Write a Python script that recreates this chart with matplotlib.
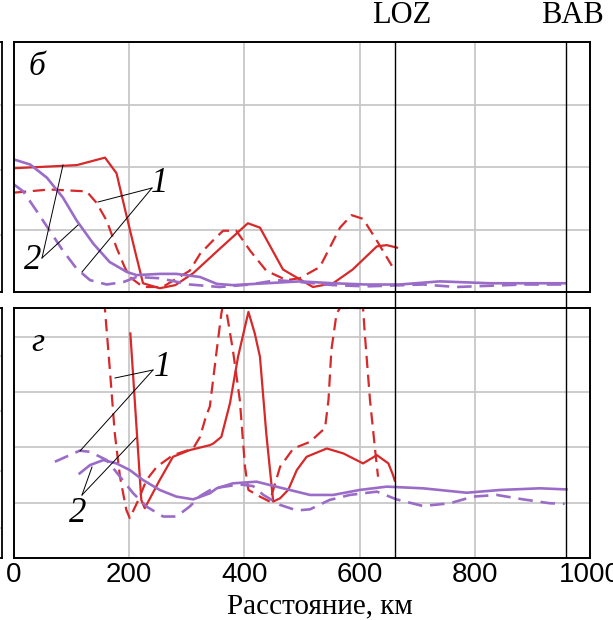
import matplotlib.pyplot as plt
from matplotlib.lines import Line2D

# --- data (km, relative units) ---
# panel б
b_red_solid_x = [0, 109, 158, 178, 192, 210, 224, 253, 280, 311, 357, 406, 427, 467, 519, 554, 588, 630, 647, 665]
b_red_solid_y = [1.98, 2.03, 2.15, 1.90, 1.35, 0.66, 0.14, 0.06, 0.11, 0.30, 0.69, 1.10, 1.03, 0.36, 0.08, 0.14, 0.36, 0.73, 0.75, 0.71]
b_red_dash_x = [0, 62, 126, 143, 161, 178, 192, 201, 224, 258, 305, 323, 345, 363, 386, 410, 438, 473, 496, 531, 566, 586, 606, 630, 656]
b_red_dash_y = [1.59, 1.64, 1.61, 1.43, 1.14, 0.71, 0.40, 0.24, 0.08, 0.08, 0.34, 0.61, 0.82, 0.98, 0.98, 0.66, 0.34, 0.19, 0.22, 0.40, 1.03, 1.23, 1.17, 0.82, 0.42]
b_pur_solid_x = [0, 28, 57, 85, 109, 138, 166, 196, 213, 253, 282, 323, 352, 380, 438, 496, 554, 612, 670, 739, 826, 956]
b_pur_solid_y = [2.12, 2.04, 1.83, 1.51, 1.14, 0.77, 0.48, 0.32, 0.27, 0.29, 0.29, 0.24, 0.13, 0.11, 0.14, 0.17, 0.14, 0.12, 0.12, 0.17, 0.14, 0.14]
b_pur_dash_x = [0, 16, 39, 62, 85, 109, 132, 161, 190, 213, 253, 305, 357, 410, 456, 496, 554, 612, 710, 768, 826, 884, 956]
b_pur_dash_y = [1.72, 1.61, 1.30, 0.98, 0.66, 0.37, 0.19, 0.12, 0.16, 0.24, 0.22, 0.12, 0.08, 0.12, 0.19, 0.16, 0.11, 0.09, 0.12, 0.08, 0.10, 0.12, 0.12]

# panel г
g_red_solid_x = [202, 221, 227, 253, 276, 305, 340, 346, 360, 375, 389, 407, 418, 427, 438, 450, 462, 476, 491, 508, 543, 572, 606, 630, 650, 658, 661]
g_red_solid_y = [4.06, 1.05, 0.90, 1.41, 1.83, 1.95, 2.04, 2.07, 2.19, 2.80, 3.64, 4.45, 4.06, 3.64, 2.25, 1.02, 1.08, 1.23, 1.59, 1.83, 1.98, 1.89, 1.71, 1.86, 1.71, 1.50, 1.40]
g_red_dash_x = [154, 166, 175, 184, 195, 201, 216, 230, 248, 276, 311, 323, 333, 340, 352, 360, 365, 380, 392, 401, 407, 427, 444, 462, 485, 514, 540, 546, 551, 560, 566, 606, 609, 618, 627, 632]
g_red_dash_y = [5.0, 3.46, 2.25, 1.47, 0.87, 0.72, 1.05, 1.41, 1.65, 1.86, 1.98, 2.19, 2.55, 2.74, 3.76, 4.42, 4.7, 3.76, 2.86, 1.65, 1.23, 1.11, 1.02, 1.65, 1.98, 2.10, 2.35, 2.86, 3.76, 4.42, 4.52, 4.52, 4.06, 2.86, 1.95, 1.47]
g_pur_solid_x = [114, 132, 155, 178, 201, 224, 253, 282, 311, 340, 352, 380, 421, 467, 514, 554, 600, 647, 710, 786, 844, 913, 959]
g_pur_solid_y = [1.53, 1.68, 1.77, 1.71, 1.59, 1.41, 1.23, 1.11, 1.06, 1.17, 1.26, 1.35, 1.38, 1.26, 1.14, 1.14, 1.23, 1.29, 1.26, 1.18, 1.23, 1.26, 1.24]
g_pur_dash_x = [71, 114, 132, 161, 184, 207, 230, 259, 282, 305, 323, 346, 392, 415, 433, 462, 491, 514, 548, 583, 630, 664, 710, 757, 797, 838, 884, 930, 956]
g_pur_dash_y = [1.74, 1.94, 1.92, 1.77, 1.47, 1.17, 0.93, 0.75, 0.75, 0.93, 1.12, 1.26, 1.33, 1.30, 1.14, 0.96, 0.86, 0.88, 1.05, 1.14, 1.20, 1.06, 0.94, 0.99, 1.11, 1.14, 1.06, 0.99, 0.98]

stations = ['LOZ', 'BAB']
station_km = [662, 958]
xticks = [0, 200, 400, 600, 800, 1000]

RED = '#d7282a'
PURPLE = '#9a6cc8'
GRID = '#c4c4c4'
SERIF = ['Liberation Serif', 'DejaVu Serif']
NARROW = ['Liberation Sans Narrow', 'Liberation Sans']

W, H = 613, 620
fig = plt.figure(figsize=(W / 100, H / 100), dpi=100)


def box(x0, y0, x1, y1):
    # pixel box (top-left origin) -> figure rect
    return [x0 / W, 1 - y1 / H, (x1 - x0) / W, (y1 - y0) / H]


def fp(x, y):
    return x / W, 1 - y / H


ax1 = fig.add_axes(box(14, 42, 590, 292))
ax2 = fig.add_axes(box(14, 308, 590, 558))

# neighbour panels cut off at the left edge
for rect, gl in [((-300, 42, 2, 292), [0.23, 0.49, 0.75]),
                 ((-300, 308, 2, 558), [0.12, 0.35, 0.59, 0.81])]:
    axn = fig.add_axes(box(*rect))
    axn.set_xlim(0, 1)
    axn.set_ylim(0, 1)
    axn.set_yticks(gl)
    axn.set_xticks([])
    axn.grid(axis='y', color=GRID, lw=1.2)
    axn.tick_params(length=0, labelleft=False)
    for s in axn.spines.values():
        s.set_linewidth(1.3)

dash = (0, (5.5, 3))
for ax, ylim, yt in [(ax1, (0, 4), [1, 2, 3]), (ax2, (0, 4.52), [1, 2, 3, 4])]:
    ax.set_xlim(0, 1000)
    ax.set_ylim(*ylim)
    ax.set_xticks(xticks)
    ax.set_yticks(yt)
    ax.grid(True, color=GRID, lw=1.2)
    ax.set_axisbelow(True)
    ax.tick_params(length=0, labelleft=False)
    for s in ax.spines.values():
        s.set_linewidth(1.4)

ax1.tick_params(labelbottom=False)
ax2.tick_params(labelbottom=True, pad=3)
for lab in ax2.get_xticklabels():
    lab.set_family(NARROW)
    lab.set_fontsize(20)

ax1.plot(b_red_solid_x, b_red_solid_y, color=RED, lw=1.6)
ax1.plot(b_red_dash_x, b_red_dash_y, color=RED, lw=1.6, ls=dash)
ax1.plot(b_pur_solid_x, b_pur_solid_y, color=PURPLE, lw=1.9)
ax1.plot(b_pur_dash_x, b_pur_dash_y, color=PURPLE, lw=1.9, ls=dash)

ax2.plot(g_red_solid_x, g_red_solid_y, color=RED, lw=1.6)
ax2.plot(g_red_dash_x, g_red_dash_y, color=RED, lw=1.6, ls=dash)
ax2.plot(g_pur_solid_x, g_pur_solid_y, color=PURPLE, lw=1.9)
ax2.plot(g_pur_dash_x, g_pur_dash_y, color=PURPLE, lw=1.9, ls=dash)

# station markers
for name, km in zip(stations, station_km):
    ax1.axvline(km, ymin=-0.07, ymax=1, color='black', lw=1.0, clip_on=False)
    ax2.axvline(km, color='black', lw=1.0)
    ax1.text(km + 12, 4.3, name, ha='center', va='baseline', family=SERIF, fontsize=22)

# panel letters
ax1.text(0.025, 0.9, 'б', transform=ax1.transAxes, family=SERIF, style='italic',
         fontsize=24, ha='left', va='center')
ax2.text(0.03, 0.86, 'г', transform=ax2.transAxes, family=SERIF, style='italic',
         fontsize=24, ha='left', va='center')

# curve labels with leader lines (pixel positions)
leaders = [
    ((152, 188), (98, 202)), ((152, 188), (82, 272)),
    ((42, 258), (63, 165)), ((42, 258), (78, 225)),
    ((153, 370), (115, 378)), ((153, 370), (80, 451)),
    ((82, 495), (92, 467)), ((82, 495), (136, 438)),
]
for (xa, ya), (xb, yb) in leaders:
    fig.add_artist(Line2D([xa / W, xb / W], [1 - ya / H, 1 - yb / H], color='black', lw=0.7))

for t, (x, y) in [('1', (159, 183)), ('2', (33, 261)), ('1', (162, 367)), ('2', (78, 514))]:
    fig.text(*fp(x, y), t, family=SERIF, style='italic', fontsize=25, ha='center', va='center')

fig.text(*fp(320, 606), 'Расстояние, км', family=SERIF, fontsize=21, ha='center', va='center')

fig.savefig('out.png', dpi=100)
